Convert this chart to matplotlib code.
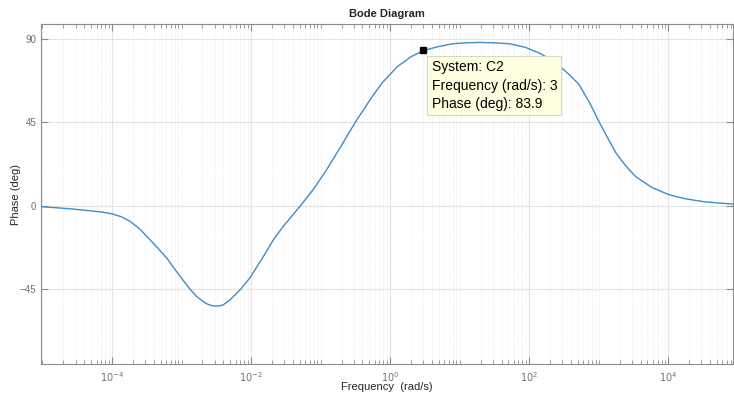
import numpy as np
import matplotlib.pyplot as plt
from matplotlib.ticker import FixedLocator, NullFormatter

# phase curve (log10 of frequency, phase in deg)
log_freq = [-5.03, -4.80, -4.56, -4.30, -4.15, -4.00, -3.87, -3.74, -3.60,
            -3.45, -3.33, -3.21, -3.10, -2.98, -2.88, -2.78, -2.65, -2.58,
            -2.52, -2.46, -2.40, -2.305, -2.16, -2.017, -1.85, -1.68, -1.54,
            -1.42, -1.30, -1.11, -0.915, -0.80, -0.68, -0.58, -0.48, -0.38,
            -0.29, -0.20, -0.10, 0.10, 0.30, 0.483, 0.70, 0.90, 1.10, 1.29,
            1.50, 1.72, 1.95, 2.15, 2.32, 2.48, 2.60, 2.72, 2.87, 3.01, 3.13,
            3.25, 3.39, 3.53, 3.77, 4.02, 4.25, 4.50, 4.70, 4.93]
phase_deg = [-0.4, -1.0, -1.7, -2.7, -3.3, -4.3, -5.8, -8.3, -12.5,
             -18.4, -23.2, -28.3, -34.0, -40.0, -44.8, -49.0, -52.6, -53.7,
             -54.1, -54.0, -53.4, -50.8, -45.4, -38.9, -29.0, -18.4, -11.2,
             -5.8, -0.4, 8.6, 19.4, 26.5, 33.8, 40.2, 46.4, 52.0,
             57.2, 62.0, 67.0, 75.0, 80.5, 83.9, 86.0, 87.5, 88.0, 88.2,
             88.0, 87.5, 85.5, 82.4, 78.8, 74.0, 70.0, 65.3, 55.5, 45.0, 36.5,
             28.4, 21.5, 15.8, 9.8, 5.9, 3.8, 2.3, 1.6, 1.0]

# data tip
tip_freq = 3
tip_phase = 83.9
tip_system = "C2"

y_ticks = [-45, 0, 45, 90]
x_major = [1e-4, 1e-2, 1e0, 1e2, 1e4]
x_labels = [r'$10^{-4}$', r'$10^{-2}$', r'$10^{0}$', r'$10^{2}$', r'$10^{4}$']

freq = 10 ** np.array(log_freq)

plt.rcParams['font.family'] = ['Liberation Sans', 'DejaVu Sans']
fig = plt.figure(figsize=(7.34, 3.95), dpi=100)
ax = fig.add_axes([0.0559, 0.0777, 0.9427, 0.8608])

ax.semilogx(freq, phase_deg, color='#3b8ec8', lw=1.0, zorder=3)
ax.set_xlim(10 ** -5.02, 10 ** 4.93)
ax.set_ylim(-85.5, 98)

# major ticks every other decade, everything else minor
ax.xaxis.set_major_locator(FixedLocator(x_major))
minor = []
for k in range(-6, 6):
    for m in range(1, 10):
        if m == 1 and k % 2 == 0:
            continue
        minor.append(m * 10.0 ** k)
ax.xaxis.set_minor_locator(FixedLocator(minor))
ax.xaxis.set_minor_formatter(NullFormatter())
ax.set_xticklabels(x_labels)
ax.set_yticks(y_ticks)

ax.grid(True, which='major', color='#e3e3e3', lw=0.8, zorder=0)
ax.grid(True, which='minor', axis='x', color='#e6e6e6', lw=0.6, ls=':', zorder=0)

for s in ax.spines.values():
    s.set_color('#8c8c8c')
    s.set_linewidth(0.8)
ax.tick_params(which='both', direction='in', top=True, right=True,
               colors='#8c8c8c', labelsize=7, labelcolor='#707070')
ax.tick_params(which='major', length=5)
ax.tick_params(which='minor', length=3)
ax.tick_params(axis='x', pad=4)

ax.set_xlabel('Frequency  (rad/s)', fontsize=8, color='#262626')
ax.xaxis.set_label_coords(0.5, -0.053)
ax.set_ylabel('Phase (deg)', fontsize=8, color='#262626')
ax.yaxis.set_label_coords(-0.029, 0.5)
ax.set_title('Bode Diagram', fontsize=8, fontweight='bold', color='#262626',
             family=['Liberation Sans Narrow', 'Liberation Sans'], pad=5)

# data tip marker and box
ax.plot([tip_freq], [tip_phase], marker='s', ms=5, color='black', zorder=5)
ax.annotate(f"System: {tip_system}\nFrequency (rad/s): {tip_freq}\nPhase (deg): {tip_phase}",
            xy=(tip_freq, tip_phase), xytext=(6, -7), textcoords='offset points',
            ha='left', va='top', fontsize=10, color='black', linespacing=1.4,
            bbox=dict(boxstyle='square,pad=0.3', fc='#ffffe1', ec='#d9d9c0', lw=0.8),
            zorder=6)

fig.savefig('out.png', dpi=100)
